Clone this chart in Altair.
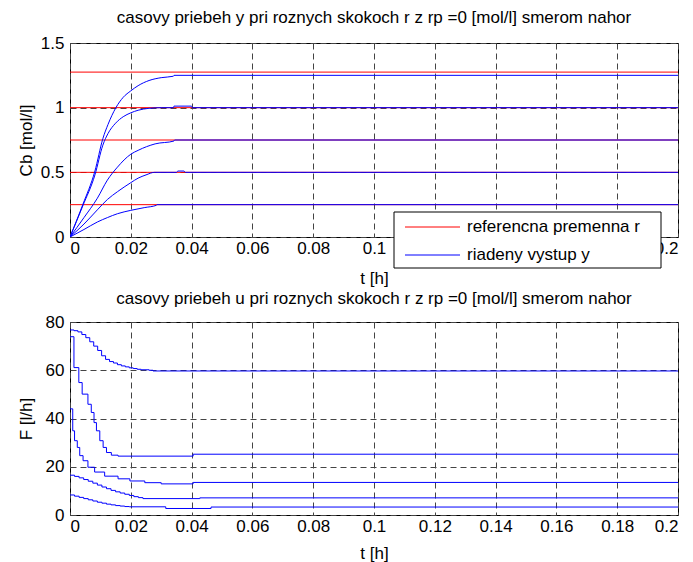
import altair as alt
import pandas as pd

FONT = "Liberation Sans"

# ---------------- data: top panel (y) ----------------
r_levels = [0.25, 0.5, 0.75, 1.0, 1.275]
r_t = [0.0, 0.2]

yA_t = [0, 0.0046, 0.009, 0.0123, 0.0156, 0.020, 0.0244, 0.0284, 0.0286, 0.2]
yA_v = [0, 0.058, 0.116, 0.150, 0.180, 0.206, 0.227, 0.245, 0.25, 0.25]
yB_t = [0, 0.0046, 0.009, 0.0123, 0.0156, 0.020, 0.0224, 0.025, 0.0278, 0.035, 0.0355, 0.0375, 0.038, 0.2]
yB_v = [0, 0.10, 0.21, 0.29, 0.35, 0.42, 0.455, 0.48, 0.5, 0.5, 0.51, 0.51, 0.5, 0.5]
yC_t = [0, 0.0046, 0.009, 0.0123, 0.0156, 0.020, 0.0224, 0.028, 0.0342, 0.0344, 0.2]
yC_v = [0, 0.15, 0.30, 0.44, 0.54, 0.64, 0.67, 0.72, 0.742, 0.75, 0.75]
yD_t = [0, 0.0042, 0.0082, 0.0108, 0.0125, 0.015, 0.0175, 0.020, 0.0224, 0.026, 0.030, 0.034, 0.0342, 0.040, 0.0402, 0.2]
yD_v = [0, 0.24, 0.48, 0.71, 0.80, 0.88, 0.93, 0.96, 0.98, 0.995, 1.0, 1.0, 1.012, 1.012, 1.0, 1.0]
yE_t = [0, 0.0042, 0.0082, 0.0108, 0.0125, 0.0151, 0.0175, 0.020, 0.0224, 0.026, 0.030, 0.0340, 0.0342, 0.2]
yE_v = [0, 0.25, 0.51, 0.76, 0.87, 1.0, 1.08, 1.13, 1.17, 1.21, 1.232, 1.243, 1.25, 1.25]

# ---------------- data: bottom panel (u) ----------------
u1_t = [0, 0.0013, 0.0026, 0.0039, 0.0052, 0.0065, 0.0078, 0.0091, 0.0104, 0.0117, 0.0130,
        0.0143, 0.0156, 0.0169, 0.0182, 0.0195, 0.0208, 0.0221, 0.0234, 0.0260, 0.0273, 0.2]
u1_v = [76.7, 76.4, 75.9, 74.8, 73.5, 71.8, 70.0, 68.2, 66.0, 64.5, 63.6,
        63.0, 62.3, 61.8, 61.4, 61.0, 60.7, 60.4, 60.2, 60.0, 59.7, 59.7]
u2_t = [0, 0.0013, 0.0029, 0.0040, 0.0059, 0.0070, 0.0079, 0.0087, 0.0098, 0.0109, 0.0120,
        0.0136, 0.0158, 0.0405, 0.2]
u2_v = [73.9, 61.1, 54.9, 50.1, 45.9, 42.5, 38.3, 34.9, 30.8, 28.0, 25.9, 24.8, 24.4, 25.2, 25.2]
u3_t = [0, 0.0009, 0.0015, 0.0024, 0.0032, 0.0043, 0.0059, 0.0081, 0.0114, 0.0158, 0.0197,
        0.0246, 0.030, 0.0405, 0.2]
u3_v = [44.0, 34.9, 30.8, 28.0, 24.6, 22.5, 19.8, 17.8, 16.1, 15.0, 14.1, 13.4, 12.9, 13.5, 13.5]
u4_t = [0, 0.0015, 0.003, 0.0045, 0.006, 0.0075, 0.009, 0.0105, 0.012, 0.0135, 0.015, 0.0165,
        0.018, 0.0195, 0.021, 0.0225, 0.024, 0.0427, 0.2]
u4_v = [16.5, 16.0, 15.4, 14.7, 14.0, 13.2, 12.4, 11.6, 10.9, 10.2, 9.6, 9.1, 8.6, 8.1, 7.6,
        7.2, 6.8, 7.1, 7.1]
u5_t = [0, 0.0015, 0.003, 0.0045, 0.006, 0.0075, 0.009, 0.0105, 0.012, 0.0135, 0.015, 0.0165,
        0.018, 0.0195, 0.0315, 0.0464, 0.2]
u5_v = [8.3, 7.8, 7.3, 6.8, 6.3, 5.8, 5.3, 4.9, 4.5, 4.2, 3.9, 3.7, 3.5, 3.4, 2.7, 3.3, 3.3]

x_ticks = [0, 0.02, 0.04, 0.06, 0.08, 0.1, 0.12, 0.14, 0.16, 0.18, 0.2]
y_ticks = [0, 0.5, 1, 1.5]
u_ticks = [0, 20, 40, 60, 80]

SER_R = "referencna premenna r"
SER_Y = "riadeny vystup y"
legend_labels = [SER_R, SER_Y]
legend_colors = ["#ff0000", "#0000ff"]

# ---------------- frames ----------------
rows = []
for i, r in enumerate(r_levels):
    for t in r_t:
        rows.append({"t": t, "v": r, "curve": f"r{i}", "series": SER_R})
red_df = pd.DataFrame(rows)

rows = []
for name, ts, vs in [("A", yA_t, yA_v), ("B", yB_t, yB_v), ("C", yC_t, yC_v),
                     ("D", yD_t, yD_v), ("E", yE_t, yE_v)]:
    for t, v in zip(ts, vs):
        rows.append({"t": t, "v": v, "curve": name, "series": SER_Y})
blue_df = pd.DataFrame(rows)

rows = []
for name, ts, vs in [("u1", u1_t, u1_v), ("u2", u2_t, u2_v), ("u3", u3_t, u3_v),
                     ("u4", u4_t, u4_v), ("u5", u5_t, u5_v)]:
    for t, v in zip(ts, vs):
        rows.append({"t": t, "v": v, "curve": name})
u_df = pd.DataFrame(rows)

W = 608
AX = dict(labelFont=FONT, labelFontSize=17, labelColor="black",
          titleFont=FONT, titleFontSize=17, titleFontWeight="normal", titleColor="black",
          gridDash=[6, 4], gridColor="#444444", gridOpacity=1, gridWidth=1,
          grid=True, ticks=False, tickSize=0, domain=False, format=".2~f")

def x_enc(tpad):
    return alt.X("t:Q", title="t [h]",
                 scale=alt.Scale(domain=[0, 0.2], nice=False, zero=False),
                 axis=alt.Axis(values=x_ticks, labelPadding=3, titlePadding=tpad, **AX))

y_top = alt.Y("v:Q", title="Cb [mol/l]",
              scale=alt.Scale(domain=[0, 1.5], nice=False),
              axis=alt.Axis(values=y_ticks, labelPadding=6, titleX=-35, titleY=97, **AX))

red = alt.Chart(red_df).mark_line(strokeWidth=1, clip=True, color=legend_colors[0]).encode(
    x=x_enc(14), y=y_top, detail="curve:N")
blue = alt.Chart(blue_df).mark_line(strokeWidth=1, clip=True, interpolate="monotone",
                                    color=legend_colors[1]).encode(
    x=x_enc(14), y=y_top, detail="curve:N")

# legend (guide drawn in pixel space of the top panel)
box_df = pd.DataFrame({"k": [0]})
leg_box = alt.Chart(box_df).mark_rect(fill="white", stroke="black", strokeWidth=1).encode(
    x=alt.value(324), x2=alt.value(591), y=alt.value(169), y2=alt.value(225))
leg_layers = [leg_box]
for lab, col, yy in zip(legend_labels, legend_colors, [184, 212]):
    leg_layers.append(alt.Chart(box_df).mark_rule(strokeWidth=1, color=col).encode(
        x=alt.value(335), x2=alt.value(390), y=alt.value(yy)))
    leg_layers.append(alt.Chart(box_df).mark_text(align="left", baseline="middle", font=FONT,
                                                  fontSize=17, color="black").encode(
        x=alt.value(397), y=alt.value(yy), text=alt.value(lab)))

top = alt.layer(red, blue, *leg_layers).properties(
    width=W, height=194,
    title=alt.TitleParams("casovy priebeh y pri roznych skokoch r z rp =0 [mol/l] smerom nahor",
                          fontSize=17, font=FONT, fontWeight="normal", anchor="middle",
                          offset=7, color="black"))

bottom = alt.Chart(u_df).mark_line(strokeWidth=1, clip=True, interpolate="step-after",
                                   color="#0000ff").encode(
    x=x_enc(11),
    y=alt.Y("v:Q", title="F [l/h]", scale=alt.Scale(domain=[0, 80], nice=False),
            axis=alt.Axis(values=u_ticks, labelPadding=6, titleX=-35, titleY=96.5, **AX)),
    detail="curve:N",
).properties(
    width=W, height=193,
    title=alt.TitleParams("casovy priebeh u pri roznych skokoch r z rp =0 [mol/l] smerom nahor",
                          fontSize=17, font=FONT, fontWeight="normal", anchor="middle",
                          offset=5, color="black"))

chart = alt.vconcat(top, bottom, spacing=2).properties(
    padding={"left": 8, "top": 0, "right": 0, "bottom": 0},
    background="white",
).configure_view(stroke="black", strokeWidth=1)

chart.save("out.html", embed_options={"renderer": "svg", "actions": False})
